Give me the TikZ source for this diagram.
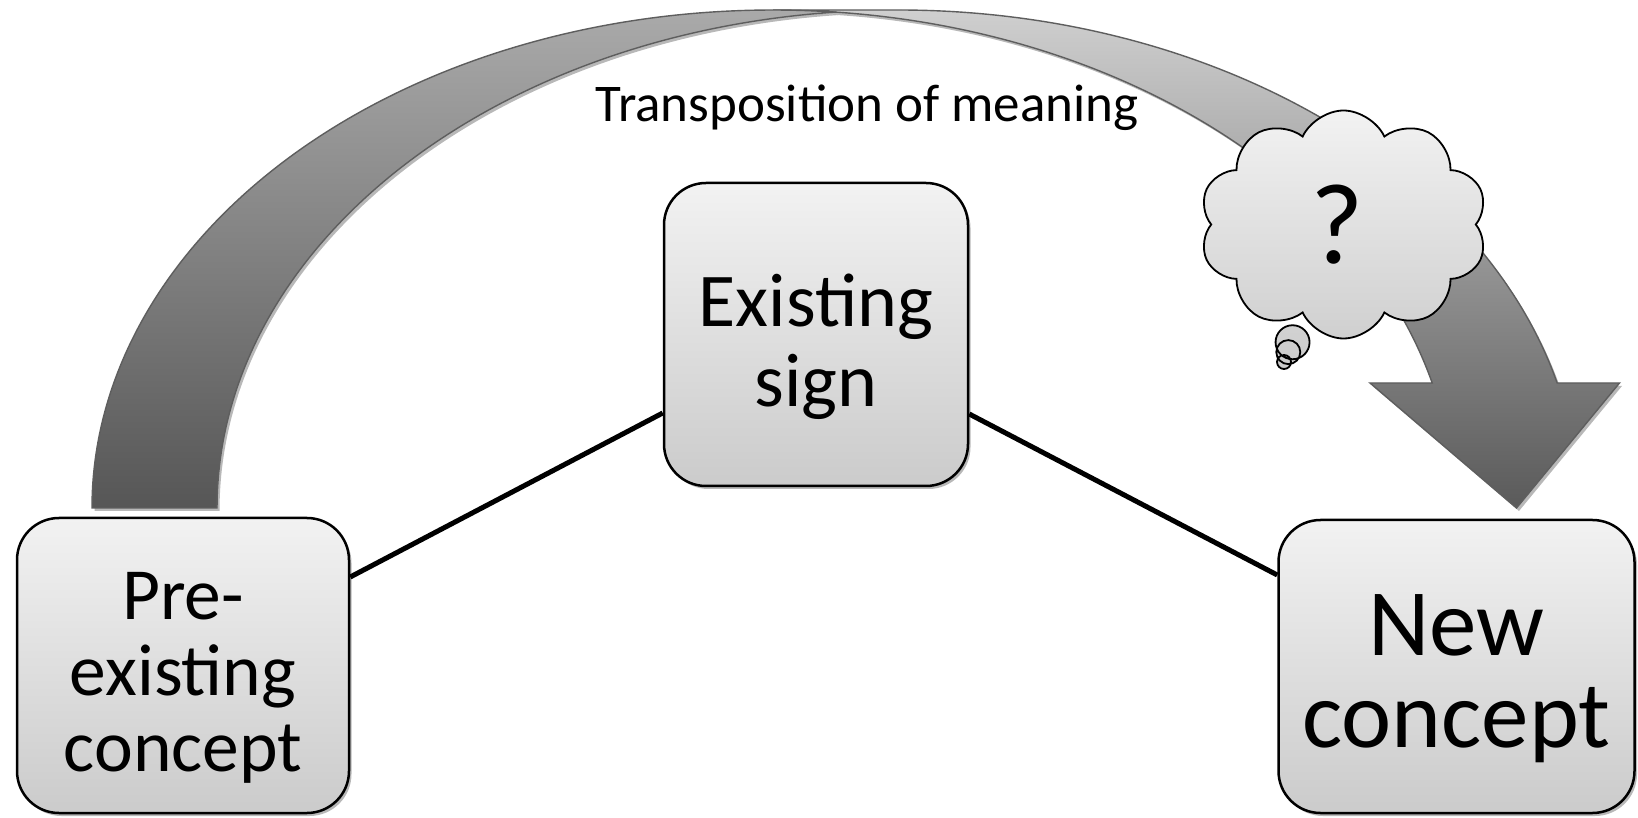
\documentclass[tikz,border=0pt]{standalone}
\usepackage{fontspec}
\setmainfont{Carlito}
\usetikzlibrary{shapes.symbols,shapes.callouts,shadows}
\definecolor{boxtop}{HTML}{F2F2F2}
\definecolor{boxbot}{HTML}{CBCBCB}
\definecolor{bandtop}{HTML}{CFCFCF}
\definecolor{bandbot}{HTML}{5A5A5A}
\definecolor{backtop}{HTML}{ABABAB}
\definecolor{backbot}{HTML}{565656}
\definecolor{bandline}{HTML}{5E5E5E}
\begin{document}
\begin{tikzpicture}[x=1pt,y=1pt,
  softshadow/.style={drop shadow={shadow xshift=2.5pt,shadow yshift=-3pt,opacity=0.28,fill=black}},
  conceptbox/.style={draw=black, line width=2.5pt, rounded corners=42pt,
    top color=boxtop, bottom color=boxbot, inner sep=0pt, softshadow},
  boxtext/.style={align=center, inner sep=0pt, text=black},
  link/.style={draw=black, line width=5pt},
  bandedge/.style={draw=bandline, line width=1.4pt, line join=miter},
  ell/.style={x radius=681pt, y radius=498pt}
]
\fill[white] (0,0) rectangle (1638,817);
\useasboundingbox (0,0) rectangle (1638,817);

% curved arrow: right band with head
\path[bandedge, top color=bandtop, bottom color=bandbot, softshadow]
  (1516.5,309) -- (1370,434) -- (1432.2,434)
  arc[ell, start angle=14.54, end angle=90] -- (898,807)
  arc[ell, start angle=90, end angle=14.54] -- (1619.5,434) -- cycle;
% curved arrow: rising back band
\path[bandedge, top color=backtop, bottom color=backbot, softshadow]
  (835.5,804.9) arc[ell, start angle=95.27, end angle=180] -- (92,309)
  arc[ell, start angle=180, end angle=84.73] -- cycle;

\node[font=\fontsize{53}{60}\selectfont, anchor=base] (title) at (867,695) {Transposition of meaning};

% boxes
\node[conceptbox, minimum width=332pt, minimum height=295pt] (pre) at (183,151.5) {};
\node[conceptbox, minimum width=304pt, minimum height=303pt] (sign) at (816,482.5) {};
\node[conceptbox, minimum width=356pt, minimum height=293pt] (new) at (1456.5,150.5) {};

\node[boxtext, font=\fontsize{73.5}{76}\selectfont] (preT) at ([yshift=-12pt]pre.center) {Pre-\\existing\\concept};
\node[boxtext, font=\fontsize{76}{80}\selectfont] (signT) at ([yshift=-12pt]sign.center) {Existing\\sign};
\node[boxtext, font=\fontsize{95}{92}\selectfont] (newT) at ([yshift=-12pt]new.center) {New\\concept};

% connectors
\draw[link] ([yshift=88.5pt]pre.east) -- ([yshift=-78.5pt]sign.west);
\draw[link] ([yshift=-79.5pt]sign.east) -- ([yshift=91.5pt]new.west);

% thought cloud
\node[cloud callout, draw=black, line width=1.8pt, cloud puffs=10, cloud puff arc=130,
  aspect=1.26, minimum width=288pt, minimum height=228pt, inner sep=0pt,
  top color=boxtop, bottom color=boxbot,
  callout absolute pointer={(1284,455)}, callout pointer segments=3,
  callout pointer start size=44pt, callout pointer end size=14pt,
  font=\fontsize{115}{115}\selectfont] (cloud) at (1343.5,592.5) {\kern-12pt?};
\end{tikzpicture}
\end{document}
